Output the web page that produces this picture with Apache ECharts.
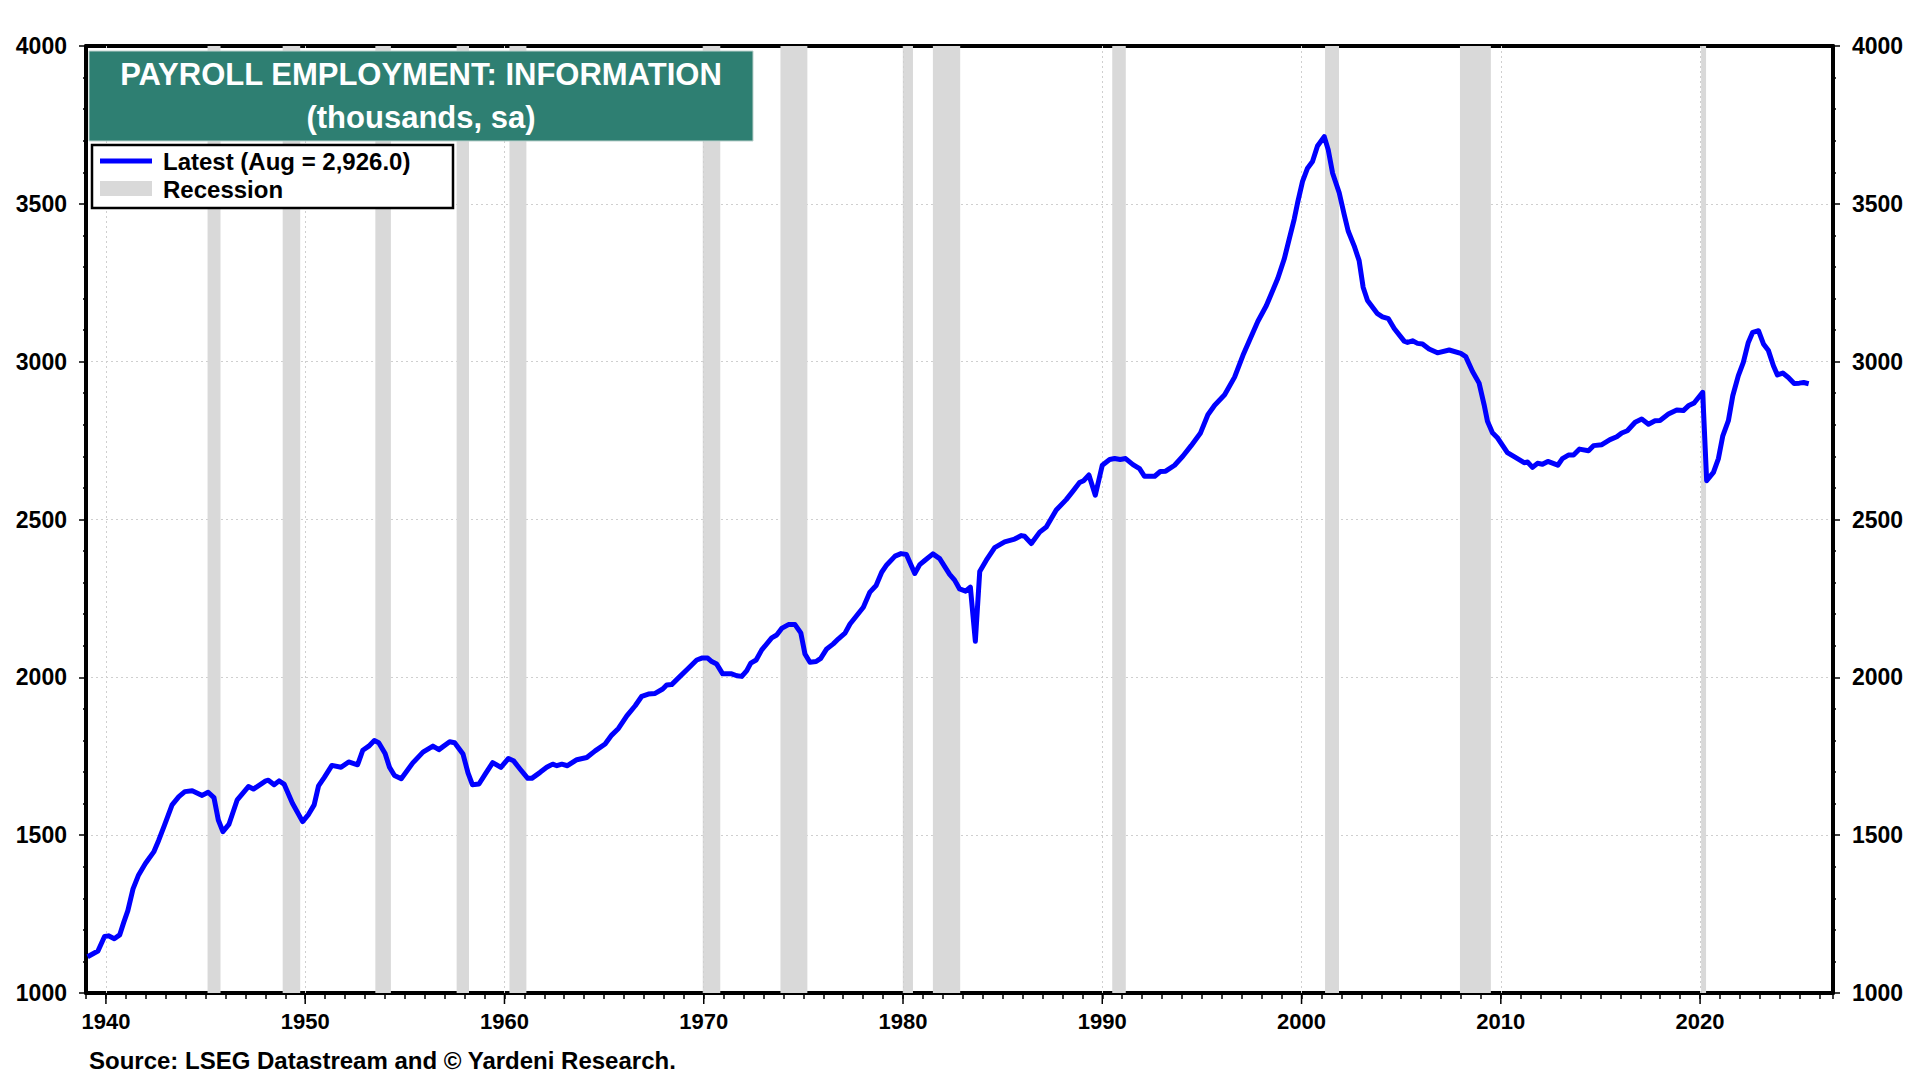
<!DOCTYPE html>
<html>
<head>
<meta charset="utf-8">
<script src="https://cdn.jsdelivr.net/npm/echarts@6/dist/echarts.min.js"></script>
<style>
html,body{margin:0;padding:0;background:#fff;}
#chart{width:1920px;height:1080px;}
</style>
</head>
<body>
<div id="chart"></div>
<script>
// ---- Data ----
const years = [
1939.08,1939.6,1939.93,1940.13,1940.42,1940.69,1940.89,1941.1,1941.36,1941.64,1941.98,
1942.4,1942.65,1942.94,1943.32,1943.66,1943.96,1944.33,1944.83,1945.13,1945.42,1945.64,1945.87,
1946.17,1946.59,1947.15,1947.4,1948.02,1948.15,1948.44,1948.69,1948.94,1949.36,1949.87,
1950.17,1950.45,1950.67,1950.96,1951.34,1951.8,1952.18,1952.63,1952.89,1953.19,1953.47,1953.69,
1954.01,1954.23,1954.48,1954.82,1955.4,1955.91,1956.41,1956.71,1957.25,1957.5,1957.92,
1958.17,1958.39,1958.72,1959.05,1959.41,1959.82,1960.2,1960.45,1960.79,1961.17,1961.37,1961.79,
1962.12,1962.42,1962.63,1962.88,1963.16,1963.63,1964.13,1964.55,1965.05,1965.38,1965.72,
1966.14,1966.56,1966.89,1967.22,1967.56,1967.94,1968.14,1968.39,1968.81,1969.23,1969.65,1969.9,
1970.2,1970.4,1970.65,1970.95,1971.4,1971.66,1971.91,1972.16,1972.36,1972.63,1972.91,
1973.41,1973.66,1973.91,1974.25,1974.58,1974.87,1975.08,1975.33,1975.64,1975.87,
1976.17,1976.5,1976.76,1977.09,1977.34,1977.68,1978.01,1978.34,1978.65,1978.93,
1979.18,1979.6,1979.9,1980.17,1980.59,1980.84,1981.09,1981.5,1981.84,1982.34,1982.59,1982.84,
1983.14,1983.38,1983.63,1983.85,1984.18,1984.6,1985.1,1985.6,1985.94,1986.1,1986.44,1986.86,
1987.19,1987.69,1988.19,1988.53,1988.86,1989.06,1989.33,1989.65,1990.0,1990.37,1990.62,1990.9,
1991.17,1991.54,1991.87,1992.12,1992.63,1992.91,1993.18,1993.63,1994.05,1994.46,1994.92,
1995.3,1995.64,1996.14,1996.64,1997.06,1997.39,1997.81,1998.23,1998.81,1999.13,1999.38,1999.63,1999.8,
2000.05,2000.3,2000.55,2000.8,2001.14,2001.34,2001.56,2001.89,2002.14,2002.34,2002.64,2002.89,
2003.09,2003.31,2003.81,2004.06,2004.36,2004.65,2005.15,2005.32,2005.57,2005.82,2006.07,2006.4,2006.82,
2007.41,2007.99,2008.24,2008.58,2008.91,2009.16,2009.33,2009.58,2009.83,2010.33,2010.67,
2011.17,2011.34,2011.59,2011.84,2012.09,2012.36,2012.86,2013.09,2013.39,2013.65,2013.95,
2014.4,2014.65,2015.07,2015.48,2015.82,2016.07,2016.35,2016.74,2017.07,2017.41,2017.74,2017.99,
2018.41,2018.83,2019.16,2019.41,2019.7,2020.13,2020.33,2020.67,2020.92,2021.14,2021.42,2021.64,2021.92,
2022.17,2022.42,2022.64,2022.93,2023.18,2023.43,2023.68,2023.88,2024.15,2024.43,2024.72,2024.98,2025.2,2025.45
];
const employment = [
1115,1133,1179,1181,1172,1184,1223,1261,1330,1374,1410,
1447,1484,1532,1596,1622,1638,1641,1626,1636,1619,1548,1511,
1534,1612,1654,1646,1672,1674,1660,1672,1662,1601,1543,
1566,1596,1656,1683,1721,1715,1732,1723,1769,1782,1800,1793,
1759,1715,1689,1679,1729,1763,1782,1771,1796,1793,1757,
1697,1660,1662,1695,1730,1715,1743,1736,1709,1680,1680,1699,
1715,1725,1720,1725,1720,1739,1746,1767,1789,1817,1838,
1878,1910,1940,1947,1949,1963,1976,1977,2003,2029,2055,2061,
2061,2050,2042,2011,2011,2005,2003,2021,2045,2055,2087,
2125,2134,2155,2167,2167,2141,2074,2048,2050,2060,
2090,2106,2122,2140,2169,2196,2222,2270,2291,2333,
2356,2384,2392,2389,2329,2357,2370,2391,2376,2326,2308,2280,
2273,2286,2114,2335,2371,2411,2429,2438,2449,2447,2424,2460,
2476,2530,2563,2590,2617,2623,2641,2577,2672,2690,2693,2690,
2693,2674,2661,2637,2637,2652,2653,2672,2701,2734,2773,
2832,2862,2895,2951,3020,3068,3128,3177,3264,3325,3388,3451,3503,
3571,3613,3634,3683,3713,3671,3597,3535,3466,3414,3367,3320,
3236,3194,3152,3142,3136,3105,3065,3061,3066,3058,3056,3040,3028,
3037,3026,3016,2969,2932,2864,2811,2775,2759,2712,2699,
2680,2682,2665,2678,2675,2684,2672,2693,2704,2704,2723,
2718,2734,2737,2753,2762,2774,2781,2808,2818,2802,2813,2814,
2834,2847,2845,2860,2869,2903,2623,2649,2693,2765,2813,2892,2956,
2998,3061,3093,3098,3056,3035,2987,2958,2964,2950,2931,2932,2934,2930
];
const recessionStart = [1945.1,1948.87,1953.52,1957.6,1960.25,1969.95,1973.85,1979.99,1981.5,1990.5,2001.18,2007.95,2020.05];
const recessionEnd   = [1945.75,1949.75,1954.3,1958.22,1961.1,1970.83,1975.2,1980.5,1982.87,1991.18,2001.88,2009.5,2020.3];
const xTickLabels = [1940,1950,1960,1970,1980,1990,2000,2010,2020];
const yTickValues = [1000,1500,2000,2500,3000,3500,4000];

const titleLine1 = 'PAYROLL EMPLOYMENT: INFORMATION';
const titleLine2 = '(thousands, sa)';
const seriesName = 'Latest (Aug = 2,926.0)';
const recessionName = 'Recession';
const sourceText = 'Source: LSEG Datastream and \u00A9 Yardeni Research.';

// ---- Chart ----
const FONT = "'Liberation Sans', Arial, Helvetica, sans-serif";
const chart = echarts.init(document.getElementById('chart'), null, {renderer: 'svg', width: 1920, height: 1080});
const xMin = 1939, xMax = 2026.67;
const yMin = yTickValues[0], yMax = yTickValues[yTickValues.length - 1];
const xLabelStyle = {color: '#000', fontSize: 22, fontWeight: 'bold', fontFamily: FONT};
const yLabelStyle = {color: '#000', fontSize: 23, fontWeight: 'bold', fontFamily: FONT,
                     formatter: function (v) { return String(Math.round(v)); }};

const option = {
  animation: false,
  backgroundColor: '#fff',
  grid: {left: 86, right: 87, top: 46, bottom: 87, containLabel: false},
  xAxis: [
    {
      type: 'value', min: xMin, max: xMax, interval: 1, position: 'bottom',
      axisLine: {show: true, onZero: false, lineStyle: {color: '#000', width: 4}},
      axisTick: {show: true, length: 6, lineStyle: {color: '#000', width: 1.5}},
      axisLabel: Object.assign({
        margin: 17,
        formatter: function (v) {
          const r = Math.round(v);
          return (Math.abs(v - r) < 1e-6 && xTickLabels.indexOf(r) >= 0) ? String(r) : '';
        }
      }, xLabelStyle),
      splitLine: {show: false}
    },
    {
      type: 'value', min: xMin, max: xMax, position: 'top',
      axisLine: {show: true, onZero: false, lineStyle: {color: '#000', width: 4}},
      axisTick: {show: false}, axisLabel: {show: false}, splitLine: {show: false}
    }
  ],
  yAxis: [
    {
      type: 'value', min: yMin, max: yMax, interval: 500, position: 'left',
      axisLine: {show: true, lineStyle: {color: '#000', width: 4}},
      axisTick: {show: true, length: 7, lineStyle: {color: '#000', width: 1.5}},
      minorTick: {show: true, splitNumber: 5, length: 3, lineStyle: {color: '#000', width: 1.5}},
      axisLabel: Object.assign({margin: 19}, yLabelStyle),
      splitLine: {show: true, lineStyle: {color: '#cfcfcf', type: [2, 3], width: 1}}
    },
    {
      type: 'value', min: yMin, max: yMax, interval: 500, position: 'right',
      axisLine: {show: true, lineStyle: {color: '#000', width: 4}},
      axisTick: {show: true, length: 7, lineStyle: {color: '#000', width: 1.5}},
      minorTick: {show: true, splitNumber: 5, length: 3, lineStyle: {color: '#000', width: 1.5}},
      axisLabel: Object.assign({margin: 19}, yLabelStyle),
      splitLine: {show: false}
    }
  ],
  series: [
    {
      name: recessionName, type: 'line', data: [], xAxisIndex: 0, yAxisIndex: 0, z: 1,
      markArea: {
        silent: true, itemStyle: {color: '#d9d9d9'},
        data: recessionStart.map((s, i) => [{xAxis: s}, {xAxis: recessionEnd[i]}])
      },
      markLine: {
        silent: true, symbol: ['none', 'none'], label: {show: false},
        lineStyle: {color: '#cfcfcf', type: [2, 3], width: 1},
        data: xTickLabels.map(v => ({xAxis: v}))
      }
    },
    {
      name: 'decade ticks', type: 'custom', xAxisIndex: 0, yAxisIndex: 0, z: 3, silent: true,
      data: xTickLabels.map(v => [v, yMin]),
      renderItem: function (params, api) {
        const p = api.coord([api.value(0), api.value(1)]);
        return {type: 'line', shape: {x1: p[0], y1: p[1] + 2, x2: p[0], y2: p[1] + 11},
                style: {stroke: '#000', lineWidth: 1.5}};
      }
    },
    {
      name: seriesName, type: 'line', xAxisIndex: 0, yAxisIndex: 0, z: 5,
      data: years.map((y, i) => [y, employment[i]]),
      showSymbol: false, symbol: 'none', smooth: false,
      lineStyle: {color: '#0000ff', width: 5, join: 'round'}
    }
  ],
  graphic: [
    {type: 'rect', z: 100, shape: {x: 89, y: 51, width: 664, height: 90},
     style: {fill: '#2e7f72', stroke: '#bcd2cd', lineWidth: 1}},
    {type: 'text', z: 101, x: 421, y: 74,
     style: {text: titleLine1, fill: '#fff', font: 'bold 31px ' + FONT, align: 'center', verticalAlign: 'middle'}},
    {type: 'text', z: 101, x: 421, y: 117,
     style: {text: titleLine2, fill: '#fff', font: 'bold 31px ' + FONT, align: 'center', verticalAlign: 'middle'}},
    {type: 'rect', z: 100, shape: {x: 92, y: 145, width: 361, height: 63},
     style: {fill: '#fff', stroke: '#000', lineWidth: 2.5}},
    {type: 'line', z: 101, shape: {x1: 100, y1: 161, x2: 152, y2: 161},
     style: {stroke: '#0000ff', lineWidth: 5}},
    {type: 'rect', z: 101, shape: {x: 100, y: 181, width: 52, height: 15},
     style: {fill: '#d9d9d9'}},
    {type: 'text', z: 101, x: 163, y: 161,
     style: {text: seriesName, fill: '#000', font: 'bold 24px ' + FONT, align: 'left', verticalAlign: 'middle'}},
    {type: 'text', z: 101, x: 163, y: 189,
     style: {text: recessionName, fill: '#000', font: 'bold 24px ' + FONT, align: 'left', verticalAlign: 'middle'}},
    {type: 'text', z: 101, x: 89, y: 1060,
     style: {text: sourceText, fill: '#000', font: 'bold 24px ' + FONT, align: 'left', verticalAlign: 'middle'}}
  ]
};
chart.setOption(option);
</script>
</body>
</html>
